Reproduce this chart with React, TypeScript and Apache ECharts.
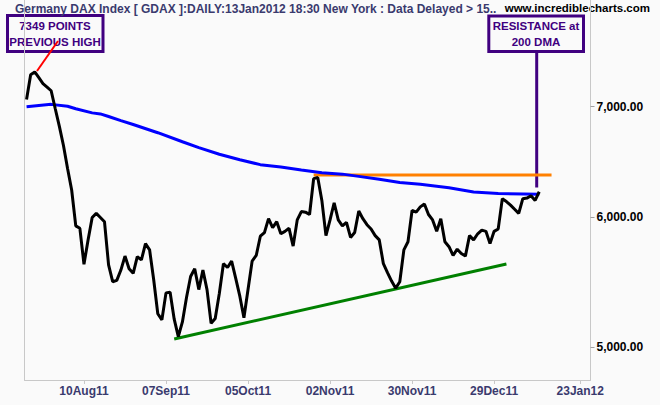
import React, { useEffect, useRef } from "react";
import * as echarts from "echarts";

// ---- data ----
const startDate = "2011-07-21";
const lastTradingDate = "2012-01-13";
const holidays = ["26Dec11"];
const categoryCount = 138;
const tickLabels = ["10Aug11", "07Sep11", "05Oct11", "02Nov11", "30Nov11", "29Dec11", "23Jan12"];
const yTicks = [5000, 6000, 7000];

const closes = [
  7070, 7320, 7349, 7290, 7230, 7195, 7158, 6980, 6810, 6630,
  6420, 6230, 5925, 5905, 5615, 5810, 5995, 6030, 5995, 5960,
  5610, 5480, 5490, 5570, 5680, 5580, 5545, 5675, 5650, 5780,
  5730, 5495, 5240, 5195, 5395, 5400, 5200, 5075, 5180, 5360,
  5520, 5580, 5420, 5570, 5420, 5170, 5205, 5390, 5620, 5590,
  5640, 5505, 5370, 5210, 5420, 5640, 5685, 5840, 5870, 5985,
  5910, 5960, 5860, 5880, 5905, 5760, 5975, 6045, 6040, 6020,
  6330, 6340, 6140, 5845, 5975, 6120, 5975, 5925, 5955, 5830,
  5870, 6050, 5985, 5935, 5900, 5845, 5810, 5620, 5550, 5485,
  5430, 5480, 5730, 5795, 6055, 6040, 6085, 6110, 6020, 5975,
  5880, 5985, 5795, 5755, 5685, 5735, 5700, 5680, 5845, 5810,
  5860, 5890, 5880, 5780, 5880, 5900, 6155, 6130, 6100, 6065,
  6030, 6155, 6160, 6180, 6140, 6215,
];

const dmaDates = [
  "21Jul11", "29Jul11", "04Aug11", "08Aug11", "12Aug11", "16Aug11", "18Aug11",
  "23Aug11", "26Aug11", "05Sep11", "13Sep11", "19Sep11", "26Sep11", "03Oct11",
  "10Oct11", "17Oct11", "24Oct11", "31Oct11", "07Nov11", "11Nov11", "18Nov11",
  "25Nov11", "02Dec11", "13Dec11", "21Dec11", "30Dec11", "13Jan12",
];
const dmaValues = [
  7000, 7023, 7005, 6980, 6940, 6930, 6905,
  6865, 6828, 6750, 6665, 6610, 6550, 6500,
  6455, 6433, 6407, 6383, 6370, 6350, 6325,
  6295, 6280, 6250, 6213, 6200, 6193,
];

const resistanceDates = ["27Oct11", "16Jan12"];
const resistanceValues = [6363, 6363];
const supportDates = ["09Sep11", "03Jan12"];
const supportValues = [5058, 5617];

const MONTHS = ["Jan", "Feb", "Mar", "Apr", "May", "Jun", "Jul", "Aug", "Sep", "Oct", "Nov", "Dec"];
function fmt(d: Date) {
  return (
    String(d.getUTCDate()).padStart(2, "0") +
    MONTHS[d.getUTCMonth()] +
    String(d.getUTCFullYear() % 100).padStart(2, "0")
  );
}
function buildCategories() {
  const out: string[] = [];
  const d = new Date(startDate + "T00:00:00Z");
  const last = new Date(lastTradingDate + "T00:00:00Z");
  while (d <= last) {
    const wd = d.getUTCDay();
    const s = fmt(d);
    if (wd !== 0 && wd !== 6 && !holidays.includes(s)) out.push(s);
    d.setUTCDate(d.getUTCDate() + 1);
  }
  while (out.length < categoryCount) {
    out.push(fmt(d));
    d.setUTCDate(d.getUTCDate() + 1);
  }
  return out;
}

const FONT = "'Liberation Sans', Arial, sans-serif";
const NAVY = "#3a3a6e";
const PURPLE = "#400080";
const BG = "#fafafa";

export default function App() {
  const ref = useRef<HTMLDivElement>(null);
  useEffect(() => {
    if (!ref.current) return;
    const chart = echarts.init(ref.current, null, { renderer: "svg" });
    const categories = buildCategories();
    const showTick = (_i: number, v: string) => tickLabels.includes(v);
    const fmtY = (v: number) =>
      Number(v).toLocaleString("en-US", { minimumFractionDigits: 2, maximumFractionDigits: 2 });

    chart.setOption({
      animation: false,
      backgroundColor: BG,
      title: {
        text: "Germany DAX Index [ GDAX ]:DAILY:13Jan2012 18:30 New York : Data Delayed > 15..",
        left: 15,
        top: 3,
        padding: 0,
        textStyle: { fontSize: 12, fontWeight: "bold", color: NAVY, fontFamily: FONT },
      },
      grid: { left: 24.5, right: 69.5, top: 0, bottom: 25, containLabel: false },
      xAxis: {
        type: "category",
        data: categories,
        boundaryGap: true,
        axisLine: { show: true, lineStyle: { color: "#c8c8c8", width: 1 } },
        axisTick: { show: true, alignWithLabel: true, interval: showTick, length: 4, lineStyle: { color: "#c8c8c8" } },
        axisLabel: {
          interval: showTick,
          margin: 5,
          color: NAVY,
          fontSize: 12,
          fontWeight: "bold",
          fontFamily: FONT,
        },
        splitLine: { show: false },
      },
      yAxis: [
        {
          type: "log",
          logBase: 10,
          position: "right",
          min: 4776,
          max: 8127,
          axisLine: { show: true, lineStyle: { color: "#c8c8c8", width: 1 } },
          axisTick: { show: true, length: 4, inside: false, customValues: yTicks, lineStyle: { color: "#a0a0a0" } },
          axisLabel: {
            customValues: yTicks,
            formatter: fmtY,
            margin: 6,
            color: "#000",
            fontSize: 12,
            fontWeight: "bold",
            fontFamily: FONT,
          },
          splitLine: { show: false },
        },
        {
          type: "value",
          position: "left",
          min: 0,
          max: 1,
          axisLine: { show: true, lineStyle: { color: "#c8c8c8", width: 1 } },
          axisTick: { show: false },
          axisLabel: { show: false },
          splitLine: { show: false },
        },
      ],
      series: [
        {
          type: "line",
          name: "Resistance",
          data: resistanceDates.map((d, i) => [d, resistanceValues[i]]),
          symbol: "none",
          lineStyle: { color: "#ff8000", width: 3 },
          silent: true,
        },
        {
          type: "line",
          name: "Support",
          data: supportDates.map((d, i) => [d, supportValues[i]]),
          symbol: "none",
          lineStyle: { color: "#008000", width: 3 },
          silent: true,
        },
        {
          type: "line",
          name: "200 DMA",
          data: dmaDates.map((d, i) => [d, dmaValues[i]]),
          symbol: "none",
          lineStyle: { color: "#0000ff", width: 3 },
          silent: true,
        },
        {
          type: "line",
          name: "DAX",
          data: closes,
          symbol: "none",
          lineStyle: { color: "#000000", width: 3 },
          silent: true,
        },
      ],
      graphic: [
        {
          type: "text",
          right: 10,
          top: 2,
          style: {
            text: "www.incrediblecharts.com",
            fill: "#000",
            font: `bold 11.5px ${FONT}`,
          },
        },
        {
          type: "rect",
          shape: { x: 7.5, y: 15.5, width: 95.5, height: 36 },
          style: { fill: BG, stroke: PURPLE, lineWidth: 3 },
        },
        {
          type: "text",
          x: 55,
          y: 34,
          style: {
            text: "7349 POINTS\nPREVIOUS HIGH",
            fill: PURPLE,
            font: `bold 11.5px ${FONT}`,
            align: "center",
            verticalAlign: "middle",
            lineHeight: 15.5,
          },
        },
        {
          type: "rect",
          shape: { x: 488.8, y: 16, width: 94.7, height: 35.5 },
          style: { fill: BG, stroke: PURPLE, lineWidth: 3 },
        },
        {
          type: "text",
          x: 536,
          y: 34,
          style: {
            text: "RESISTANCE at\n200 DMA",
            fill: PURPLE,
            font: `bold 11.5px ${FONT}`,
            align: "center",
            verticalAlign: "middle",
            lineHeight: 15.5,
          },
        },
        {
          type: "line",
          shape: { x1: 536.7, y1: 52.5, x2: 536.7, y2: 187.5 },
          style: { stroke: PURPLE, lineWidth: 3 },
        },
        {
          type: "line",
          shape: { x1: 58, y1: 41, x2: 37, y2: 71 },
          style: { stroke: "#ff0000", lineWidth: 2 },
        },
      ],
    });
    return () => chart.dispose();
  }, []);
  return (
    <div
      ref={ref}
      style={{ position: "fixed", left: 0, top: 0, width: 660, height: 405, background: BG }}
    />
  );
}
